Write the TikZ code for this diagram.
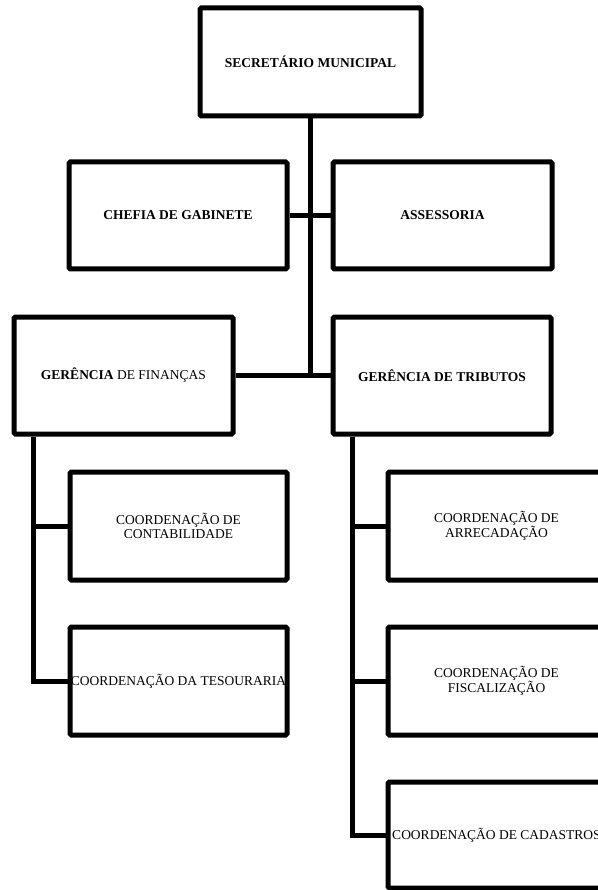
\documentclass[tikz,border=0pt]{standalone}
\usepackage{fontspec}
\setmainfont{Liberation Serif}
\begin{document}
\begin{tikzpicture}[x=1pt,y=-1pt,
  orgbox/.style={draw=black, line width=5pt, rectangle, rounded corners=1.5pt,
    inner sep=0pt, align=center, font=\fontsize{13.5}{13.4}\selectfont},
  titlebox/.style={orgbox, font=\fontsize{13.5}{13.4}\selectfont\bfseries},
  link/.style={draw=black, line width=5pt}]
\useasboundingbox (0,0) rectangle (597,890);
% top
\node[titlebox, minimum width=221pt, minimum height=108pt] (sec) at (310.5,62) {SECRETÁRIO MUNICIPAL};
% second row
\node[titlebox, minimum width=218pt, minimum height=107pt] (chefia) at (178,215.5) {CHEFIA DE GABINETE};
\node[titlebox, minimum width=219pt, minimum height=107pt] (assess) at (442.5,215.5) {ASSESSORIA};
% third row
\node[orgbox, minimum width=219pt, minimum height=117pt] (fin) at (123.5,375.5) {\textbf{GERÊNCIA} DE FINANÇAS};
\node[titlebox, minimum width=218pt, minimum height=117pt] (trib) at (442,375.5) {GERÊNCIA DE TRIBUTOS};
% left column
\node[orgbox, minimum width=217pt, minimum height=108pt] (contab) at (178.5,526) {COORDENAÇÃO DE\\CONTABILIDADE};
\node[orgbox, minimum width=217pt, minimum height=108pt] (tesour) at (178.5,681) {COORDENAÇÃO DA TESOURARIA};
% right column
\node[orgbox, minimum width=217pt, minimum height=108pt] (arrec) at (496.5,526) {COORDENAÇÃO DE\\ARRECADAÇÃO};
\node[orgbox, minimum width=217pt, minimum height=108pt] (fisc) at (496.5,681) {COORDENAÇÃO DE\\FISCALIZAÇÃO};
\node[orgbox, minimum width=217pt, minimum height=106pt] (cad) at (496.5,835) {COORDENAÇÃO DE CADASTROS};
% connectors
\draw[link] (sec.south) -- (sec.south |- fin.east);
\draw[link] (chefia.east) -- (assess.west);
\draw[link] (fin.east) -- (trib.west);
\draw[link] ([xshift=22pt]fin.south west) |- (contab.west);
\draw[link] ([xshift=22pt]fin.south west) |- (tesour.west);
\draw[link] ([xshift=22pt]trib.south west) |- (arrec.west);
\draw[link] ([xshift=22pt]trib.south west) |- (fisc.west);
\draw[link] ([xshift=22pt]trib.south west) |- (cad.west);
\end{tikzpicture}
\end{document}
